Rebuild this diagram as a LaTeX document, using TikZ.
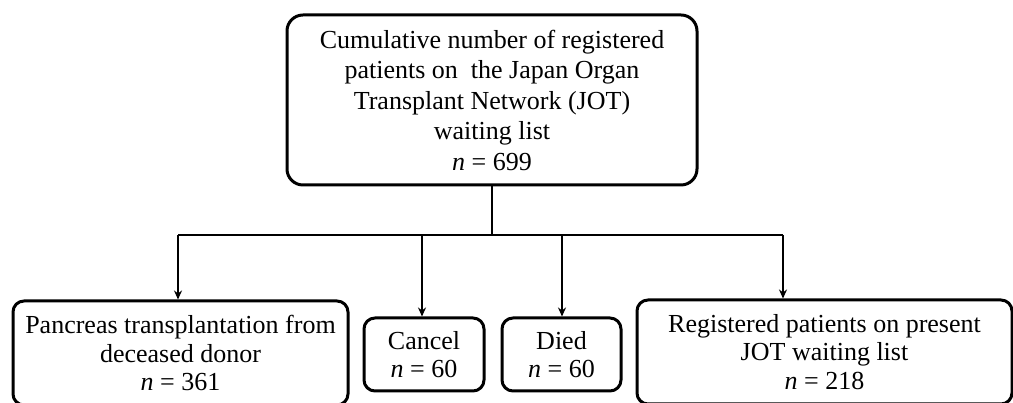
\documentclass[tikz,border=0pt]{standalone}
\usepackage{fontspec}
\setmainfont{Liberation Serif}
\usetikzlibrary{arrows.meta}
\begin{document}
\begin{tikzpicture}[x=1pt,y=1pt,
  bigbox/.style={draw, line width=3pt, rounded corners=16pt, align=center, inner sep=0pt,
    font=\fontsize{26}{30.5}\selectfont},
  smallbox/.style={draw, line width=3pt, rounded corners=11pt, align=center, inner sep=0pt,
    font=\fontsize{26}{28.5}\selectfont},
  conn/.style={line width=2pt},
  arr/.style={line width=2pt, -{Stealth[length=9pt,width=8pt]}}]
\useasboundingbox (0,0) rectangle (1013,403);
\clip (0,0) rectangle (1013,403);
\node[bigbox, minimum width=410pt, minimum height=170pt] (top) at (492,303)
  {Cumulative number of registered\\patients on\ \ the Japan Organ\\Transplant Network (JOT)\\waiting list\\\textit{n} = 699};
\node[smallbox, minimum width=335pt, minimum height=104pt] (b1) at (180.5,50)
  {Pancreas transplantation from\\deceased donor\\\textit{n} = 361};
\node[smallbox, minimum width=120pt, minimum height=73pt] (b2) at (424,48.5)
  {Cancel\\\textit{n} = 60};
\node[smallbox, minimum width=119pt, minimum height=73pt] (b3) at (561.5,48.5)
  {Died\\\textit{n} = 60};
\node[smallbox, minimum width=375pt, minimum height=104pt] (b4) at (824.5,51)
  {Registered patients on present\\JOT waiting list\\\textit{n} = 218};
\coordinate (split) at (top.south |- 0,168);
\coordinate (c1) at (178,168);
\coordinate (c2) at (422,168);
\coordinate (c3) at (562,168);
\coordinate (c4) at (783,168);
\draw[conn] (top.south) -- (split);
\draw[conn] (c1) -- (c4);
\draw[arr] (c1) -- (c1 |- b1.north);
\draw[arr] (c2) -- (c2 |- b2.north);
\draw[arr] (c3) -- (c3 |- b3.north);
\draw[arr] (c4) -- (c4 |- b4.north);
\end{tikzpicture}
\end{document}
